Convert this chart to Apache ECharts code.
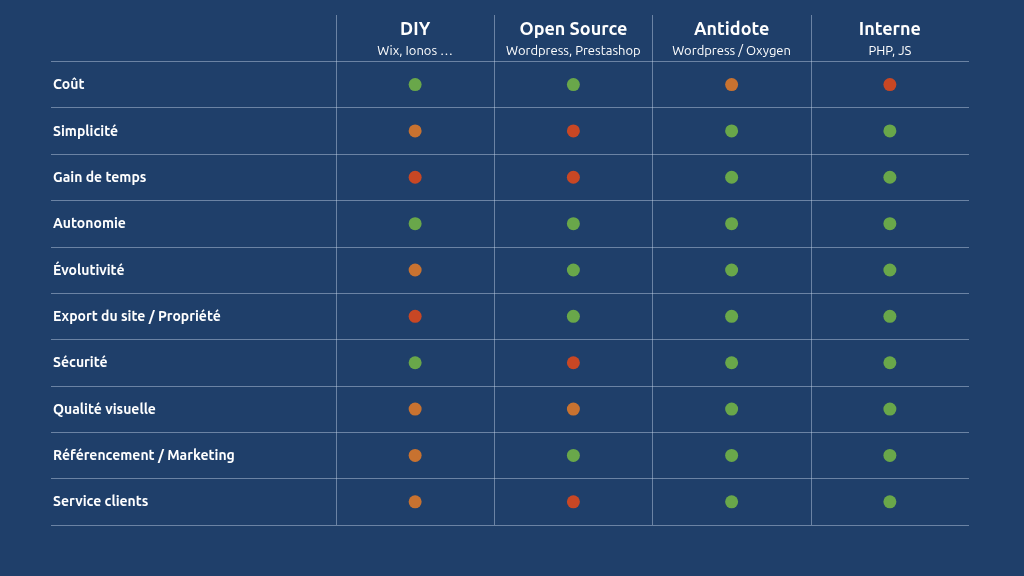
<!DOCTYPE html>
<html><head><meta charset="utf-8">
<script src="https://cdn.jsdelivr.net/npm/echarts@6/dist/echarts.min.js"></script>
<style>html,body{margin:0;background:#1f3f6a}#c{width:1024px;height:576px}</style>
</head><body><div id="c"></div>
<script>
const criteria = ['Coût','Simplicité','Gain de temps','Autonomie','Évolutivité','Export du site / Propriété','Sécurité','Qualité visuelle','Référencement / Marketing','Service clients'];
const solutions = ['DIY','Open Source','Antidote','Interne'];
const subtitles = ['Wix, Ionos …','Wordpress, Prestashop','Wordpress / Oxygen','PHP, JS'];
// g = bon, o = moyen, r = mauvais
const diy        = ['g','o','r','g','o','r','g','o','o','o'];
const openSource = ['g','r','r','g','g','g','r','o','g','r'];
const antidote   = ['o','g','g','g','g','g','g','g','g','g'];
const interne    = ['r','g','g','g','g','g','g','g','g','g'];
const statusColors = {g:'#7cc242', o:'#f37f22', r:'#f34a13'};

const allCols = [diy, openSource, antidote, interne];
const rowsCat = [''].concat(criteria);
const data = [];
allCols.forEach((col, ci) => col.forEach((s, ri) => data.push({value:[solutions[ci], criteria[ri]], itemStyle:{color:statusColors[s]}})));
const lineColor = 'rgba(200,215,235,0.45)';
const hLineColors = rowsCat.map((_, i) => i === 0 ? 'rgba(0,0,0,0)' : lineColor).concat([lineColor]);
const vLineColors = solutions.map(() => lineColor).concat(['rgba(0,0,0,0)']);
const font = 'Ubuntu, "Open Sans", sans-serif';

const chart = echarts.init(document.getElementById('c'));
chart.setOption({
  backgroundColor:'#1f3f6a',
  animation:false,
  grid:[
    {left:51, right:55, top:15, bottom:51},
    {left:336, right:55, top:15, bottom:51}
  ],
  xAxis:[
    {gridIndex:0, type:'value', min:0, max:1, axisLine:{show:false}, axisTick:{show:false}, axisLabel:{show:false}, splitLine:{show:false}},
    {gridIndex:1, type:'category', data:solutions, position:'top',
      axisLine:{show:false}, axisTick:{show:false},
      splitLine:{show:true, lineStyle:{color:vLineColors}},
      axisLabel:{inside:true, margin:2, interval:0,
        formatter:(v,i)=>'{b|'+v+'}\n{s|'+subtitles[i]+'}',
        rich:{b:{color:'#fff', fontSize:18, fontWeight:'bold', fontFamily:font, lineHeight:24},
              s:{color:'#fff', fontSize:13, fontFamily:font, lineHeight:20}}}}
  ],
  yAxis:[
    {gridIndex:0, type:'category', data:rowsCat, inverse:true,
      axisLine:{show:false}, axisTick:{show:false},
      splitLine:{show:true, lineStyle:{color:hLineColors}},
      axisLabel:{inside:true, interval:0, margin:2, color:'#fff', fontSize:14, fontWeight:'bold', fontFamily:font}},
    {gridIndex:1, type:'category', data:rowsCat, inverse:true,
      axisLine:{show:false}, axisTick:{show:false}, axisLabel:{show:false}, splitLine:{show:false}}
  ],
  series:[{type:'scatter', xAxisIndex:1, yAxisIndex:1, symbolSize:13, data:data}]
});
</script></body></html>
